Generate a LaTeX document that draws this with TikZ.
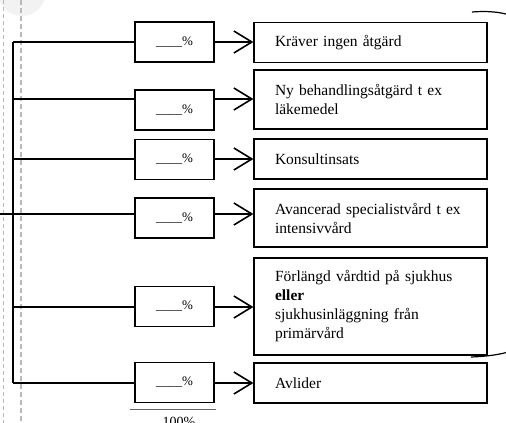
\documentclass[tikz,border=0pt]{standalone}
\usepackage{fontspec}
\setmainfont{Liberation Serif}
\usetikzlibrary{arrows.meta}
\begin{document}
\begin{tikzpicture}[x=1pt,y=-1pt,
  pbox/.style={draw,line width=1.2pt,minimum width=79pt,minimum height=40pt,inner sep=0pt,font=\fontsize{13}{15}\selectfont},
  tbox/.style={draw,line width=1.2pt,minimum width=233pt,inner xsep=21pt,inner ysep=0pt,text width=191pt,align=left,font=\fontsize{15.5}{19}\selectfont},
  conn/.style={line width=1.6pt},
  arr/.style={line width=1.6pt,-{Straight Barb[length=18pt,width=22pt,line width=1.6pt]}},
  guide/.style={gray!55,dash pattern=on 4pt off 3pt}]
\useasboundingbox (0,0) rectangle (506,423);
% faint watermark circle
\fill[gray!10] (22,-8) circle (24);
% guide lines
\draw[guide,line width=0.8pt] (3,0) -- (3,423);
\draw[guide,line width=1.6pt,dash pattern=on 5pt off 3pt] (21,0) -- (21,423);
% percent boxes
\node[pbox] (p1) at (174.5,42) {\_\_\_\_\%};
\node[pbox] (p2) at (174.5,110) {\_\_\_\_\%};
\node[pbox] (p3) at (174.5,159.5) {\_\_\_\_\%};
\node[pbox] (p4) at (174.5,218) {\_\_\_\_\%};
\node[pbox] (p5) at (174.5,306.5) {\_\_\_\_\%};
\node[pbox] (p6) at (174.5,382.5) {\_\_\_\_\%};
% text boxes
\node[tbox,minimum height=40pt] (b1) at (370.5,42.5) {Kräver ingen åtgärd};
\node[tbox,minimum height=59pt] (b2) at (370.5,99.5) {Ny behandlingsåtgärd t ex\\läkemedel};
\node[tbox,minimum height=40pt] (b3) at (370.5,159) {Konsultinsats};
\node[tbox,minimum height=58pt] (b4) at (370.5,218) {Avancerad specialistvård t ex\\intensivvård};
\node[tbox,minimum height=97pt] (b5) at (370.5,306.5) {Förlängd vårdtid på sjukhus\\\textbf{eller}\\sjukhusinläggning från\\primärvård};
\node[tbox,minimum height=40pt] (b6) at (370.5,383) {Avlider};
% trunk
\coordinate (t1) at (13,42);
\coordinate (t2) at (13,99);
\coordinate (t3) at (13,159);
\coordinate (t4) at (13,214);
\coordinate (t5) at (13,307);
\coordinate (t6) at (13,383);
\coordinate (s0) at (0,214);
\draw[conn] (t1) -- (t6);
\draw[conn] (s0) -- (t4);
\foreach \i in {1,...,6}{
  \draw[conn] (t\i) -- (t\i -| p\i.west);
  \draw[arr] (t\i -| p\i.east) -- (t\i -| b\i.west);
}
% sum line
\coordinate (u1) at (130,409);
\coordinate (u2) at (216,409);
\draw[line width=0.8pt,gray!80!black] (u1) -- (u2);
\node[font=\fontsize{14}{16}\selectfont,anchor=north,inner sep=0pt] (sum) at (179,417) {100\%};
% right brace
\draw[line width=1.2pt] (472,12) .. controls (497,10) and (520,14) .. (532,30) -- (532,338) .. controls (520,352) and (497,356) .. (471,357);
\end{tikzpicture}
\end{document}
